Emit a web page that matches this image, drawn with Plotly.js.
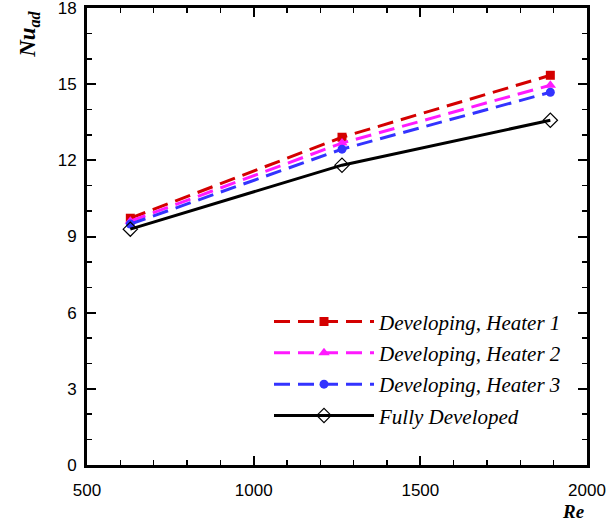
<!DOCTYPE html>
<html>
<head>
<meta charset="utf-8">
<script src="https://cdn.plot.ly/plotly-3.0.1.min.js"></script>
<style>html,body{margin:0;padding:0;background:#fff;}#chart{width:609px;height:526px;}</style>
</head>
<body>
<div id="chart"></div>
<script>
var reynolds = [630, 1265, 1890];
var heater1 = [9.72, 12.91, 15.35];
var heater2 = [9.60, 12.68, 14.96];
var heater3 = [9.49, 12.44, 14.68];
var fully = [9.29, 11.81, 13.58];
var seriesNames = ["Developing, Heater 1", "Developing, Heater 2", "Developing, Heater 3", "Fully Developed"];
var xTicks = [500, 1000, 1500, 2000];
var yTicks = [0, 3, 6, 9, 12, 15, 18];

var dashPattern = "16px,8px";
var traces = [
  {x: reynolds, y: heater1, name: seriesNames[0], legendgroup: "g1", mode: "lines+markers",
   line: {color: "#d40000", width: 3, dash: dashPattern},
   marker: {symbol: "square", size: 9, color: "#d40000"}},
  {x: reynolds, y: heater2, name: seriesNames[1], legendgroup: "g2", mode: "lines+markers",
   line: {color: "#ff1aff", width: 3, dash: dashPattern},
   marker: {symbol: "triangle-up", size: 10, color: "#ff1aff"}},
  {x: reynolds, y: heater3, name: seriesNames[2], legendgroup: "g3", mode: "lines+markers",
   line: {color: "#3333ff", width: 3, dash: dashPattern},
   marker: {symbol: "circle", size: 9, color: "#3333ff"}},
  {x: reynolds, y: fully, name: seriesNames[3], legendgroup: "g4", mode: "lines+markers",
   line: {color: "#000000", width: 3},
   marker: {symbol: "diamond-open", size: 11, color: "#000000", line: {width: 1.2, color: "#000"}}}
];

var axisCommon = {
  showline: true, linewidth: 3, linecolor: "#000", mirror: "allticks",
  ticks: "inside", ticklen: 9, tickwidth: 2, tickcolor: "#000",
  showgrid: false, zeroline: false, ticklabeloverflow: "allow",
  tickfont: {family: "Liberation Sans, Arial, sans-serif", size: 17, color: "#000"}
};

var layout = {
  width: 609, height: 526,
  margin: {l: 87, r: 22, t: 8, b: 61},
  paper_bgcolor: "#fff", plot_bgcolor: "#fff",
  showlegend: true,
  legend: {
    x: 0.364, y: 0.358, xanchor: "left", yanchor: "top",
    bgcolor: "rgba(0,0,0,0)", borderwidth: 0,
    font: {family: "Liberation Serif, Times New Roman, serif", size: 21, color: "#000", style: "italic"},
    itemwidth: 100, tracegroupgap: 1
  },
  xaxis: Object.assign({}, axisCommon, {
    range: [500, 2000], tickvals: xTicks, ticktext: xTicks.map(String),
    minor: {dtick: 100, ticklen: 5, tickwidth: 1.5, ticks: "inside", tickcolor: "#000"},
    ticklabelstandoff: 8
  }),
  yaxis: Object.assign({}, axisCommon, {
    range: [0, 18], tickvals: yTicks, ticktext: yTicks.map(String),
    minor: {dtick: 1, ticklen: 5, tickwidth: 1.5, ticks: "inside", tickcolor: "#000"},
    ticklabelstandoff: 4
  }),
  annotations: [
    {text: "<b><i>Re</i></b>", xref: "paper", yref: "paper", x: 0.972, y: -0.075,
     xanchor: "center", yanchor: "top", showarrow: false,
     font: {family: "Liberation Serif, Times New Roman, serif", size: 19, color: "#000"}},
    {text: "<b><i>Nu<sub>ad</sub></i></b>", xref: "paper", yref: "paper", x: -0.116, y: 0.997,
     xanchor: "center", yanchor: "top", showarrow: false, textangle: -90,
     font: {family: "Liberation Serif, Times New Roman, serif", size: 23, color: "#000"}}
  ]
};

Plotly.newPlot("chart", traces, layout, {displayModeBar: false, staticPlot: true});
</script>
</body>
</html>
